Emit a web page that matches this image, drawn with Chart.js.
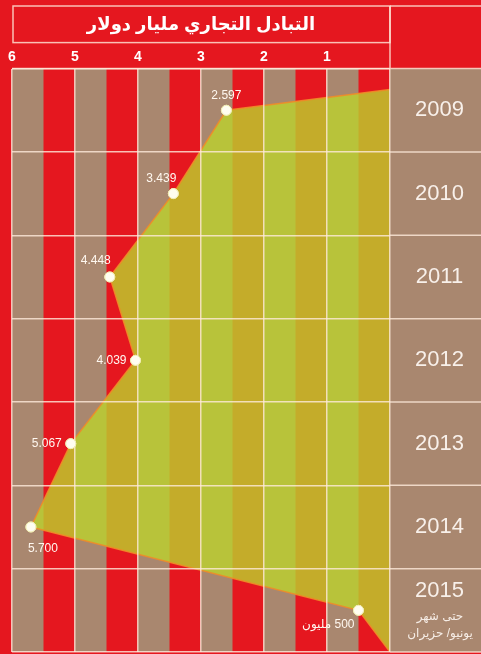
<!DOCTYPE html>
<html>
<head>
<meta charset="utf-8">
<script src="https://cdn.jsdelivr.net/npm/chart.js@4.4.1/dist/chart.umd.min.js"></script>
<style>
  html, body { margin: 0; padding: 0; background: #e5171f; }
  #wrap { width: 481px; height: 654px; }
</style>
</head>
<body>
<div id="wrap"><canvas id="trade"></canvas></div>
<script>
const years = ['2009', '2010', '2011', '2012', '2013', '2014', '2015'];
const tradeValues = [2.597, 3.439, 4.448, 4.039, 5.067, 5.7, 0.5];
const valueLabels = ['2.597', '3.439', '4.448', '4.039', '5.067', '5.700', '500 مليون'];
const note2015 = ['حتى شهر', 'يونيو/ حزيران'];
// where the filled shape meets zero, above 2009 and below 2015
const areaStart = { x: 0, y: 2008.75 };
const areaEnd = { x: 0, y: 2015.5 };

const RED = '#e5171f';
const BROWN = '#a9876f';
const LINE = 'rgba(255, 235, 220, 0.8)';
const FONT = '"Liberation Sans", "DejaVu Sans", sans-serif';

// label placement next to each point
const labelPlace = [
  { dx: 0, dy: -15, align: 'center' },
  { dx: -12, dy: -15, align: 'center' },
  { dx: -14, dy: -16, align: 'center' },
  { dx: -9, dy: 0, align: 'right' },
  { dx: -9, dy: 0, align: 'right' },
  { dx: 12, dy: 22, align: 'center' },
  { dx: -4, dy: 14, align: 'right', rtl: true }
];

const points = [areaStart].concat(
  tradeValues.map((v, i) => ({ x: v, y: Number(years[i]) })),
  [areaEnd]
);
const radii = points.map((p, i) => (i === 0 || i === points.length - 1) ? 0 : 5);

const backdrop = {
  id: 'backdrop',
  beforeDraw(chart) {
    const { ctx, chartArea: a, width, height } = chart;
    const x = chart.scales.x, y = chart.scales.y;
    ctx.save();
    ctx.fillStyle = RED;
    ctx.fillRect(0, 0, width, height);
    ctx.fillStyle = BROWN;
    for (let k = 0; k < 6; k++) {
      const x1 = x.getPixelForValue(k + 1), x2 = x.getPixelForValue(k + 0.5);
      ctx.fillRect(x1, a.top, x2 - x1, a.bottom - a.top);
    }
    ctx.fillRect(a.right, a.top, width - a.right, a.bottom - a.top);

    ctx.strokeStyle = LINE;
    ctx.lineWidth = 1.5;
    const t = chart.titleBlock;
    ctx.strokeRect(a.left + 1, t.top, a.right - a.left - 1, t.bottom - t.top);
    ctx.beginPath();
    ctx.moveTo(a.right, t.top); ctx.lineTo(width, t.top);
    ctx.moveTo(a.right, t.top); ctx.lineTo(a.right, a.top);
    ctx.moveTo(a.left, a.top); ctx.lineTo(width, a.top);
    for (let i = 0; i <= years.length; i++) {
      const py = y.getPixelForValue(i - 0.5);
      ctx.moveTo(a.right, py); ctx.lineTo(width, py);
    }
    ctx.stroke();
    ctx.restore();
  },
  afterDraw(chart) {
    const { ctx, chartArea: a } = chart;
    const meta = chart.getDatasetMeta(0);
    ctx.save();
    // points back on top of the grid
    meta.data.forEach(p => p.draw(ctx, a));
    ctx.font = '12px ' + FONT;
    ctx.fillStyle = '#fff8f0';
    ctx.textBaseline = 'middle';
    valueLabels.forEach((txt, i) => {
      const p = meta.data[i + 1], pl = labelPlace[i];
      ctx.direction = pl.rtl ? 'rtl' : 'ltr';
      ctx.textAlign = pl.align;
      ctx.fillText(txt, p.x + pl.dx, p.y + pl.dy);
    });
    const y = chart.scales.y;
    const py = y.getPixelForValue(years.length - 1);
    ctx.direction = 'rtl';
    ctx.textAlign = 'center';
    ctx.font = '12px ' + FONT;
    ctx.fillStyle = '#f6ede6';
    ctx.fillText(note2015[0], a.right + 50, py + 6);
    ctx.fillText(note2015[1], a.right + 50, py + 23);
    ctx.restore();
  }
};

new Chart(document.getElementById('trade'), {
  type: 'line',
  data: {
    labels: years,
    datasets: [{
      indexAxis: 'y',
      xAxisID: 'x',
      yAxisID: 'y2',
      data: points,
      fill: 'origin',
      backgroundColor: 'rgba(188, 210, 45, 0.8)',
      borderColor: 'rgba(240, 140, 40, 0.9)',
      borderWidth: 1.5,
      tension: 0,
      pointRadius: radii,
      pointBackgroundColor: '#fffdf0',
      pointBorderColor: '#f0ecb0',
      pointBorderWidth: 1
    }]
  },
  options: {
    responsive: true,
    maintainAspectRatio: false,
    devicePixelRatio: 1,
    animation: false,
    layout: { padding: { top: 6, left: 12, right: 0, bottom: 2 } },
    plugins: {
      legend: { display: false },
      tooltip: { enabled: false },
      title: {
        display: true,
        fullSize: false,
        text: 'التبادل التجاري مليار دولار',
        color: '#ffffff',
        font: { family: FONT, size: 18, weight: 'bold' },
        padding: { top: 8, bottom: 7 }
      }
    },
    scales: {
      x: {
        type: 'linear',
        position: 'top',
        reverse: true,
        min: 0,
        max: 6,
        ticks: {
          stepSize: 1,
          color: '#ffffff',
          padding: 3,
          font: { family: FONT, size: 14, weight: 'bold' },
          callback: v => v === 0 ? '' : v
        },
        grid: { color: LINE, lineWidth: 1.5, drawTicks: false, z: 1 },
        border: { display: false },
        afterFit: s => { s.height = 26; }
      },
      y: {
        type: 'category',
        position: 'right',
        offset: true,
        ticks: {
          autoSkip: false,
          color: '#f8f0ea',
          padding: 25,
          crossAlign: 'center',
          font: { family: FONT, size: 22, lineHeight: 1.77 },
          callback: function (v, i) {
            return i === years.length - 1 ? [years[i], ''] : years[i];
          }
        },
        grid: { offset: true, color: LINE, lineWidth: 1.5, drawTicks: false, z: 1 },
        border: { display: false },
        afterFit: s => { s.width = 91; s.paddingTop = 0; s.paddingBottom = 0; }
      },
      y2: {
        type: 'linear',
        display: false,
        reverse: true,
        min: 2008.5,
        max: 2015.5
      }
    }
  },
  plugins: [backdrop]
});
</script>
</body>
</html>
